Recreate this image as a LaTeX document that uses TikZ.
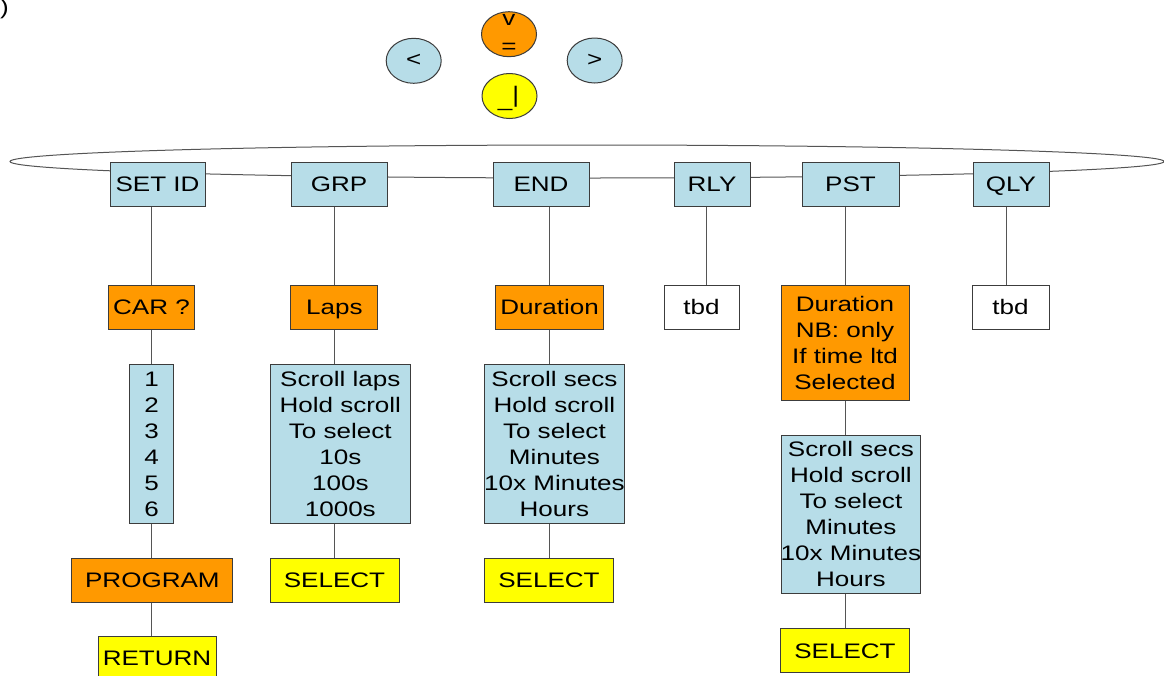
\documentclass[tikz,border=0pt]{standalone}
\usepackage{fontspec}
\setmainfont{Liberation Sans}[FakeStretch=1.24]
\usetikzlibrary{shapes.geometric}
\definecolor{lblue}{RGB}{183,221,232}
\definecolor{orng}{RGB}{255,153,0}
\definecolor{yel}{RGB}{255,255,0}
\definecolor{bord}{RGB}{60,60,60}
\definecolor{conn}{RGB}{85,85,85}
\tikzset{
  txt/.style={font=\fontsize{21}{26}\selectfont},
  box/.style={txt, draw=bord, line width=1pt, inner sep=0pt, minimum height=44, text depth=0pt, align=center},
  bluebox/.style={box, fill=lblue},
  orgbox/.style={box, fill=orng},
  yelbox/.style={box, fill=yel},
  whitebox/.style={box, fill=white},
  conn/.style={draw=conn, line width=1pt},
  btn/.style={ellipse, draw=bord, line width=1pt, minimum width=55, minimum height=45, inner sep=0pt},
  btntxt/.style={txt, inner sep=0pt, anchor=base},
}
\begin{document}
\begin{tikzpicture}[x=1pt, y=-1pt]
\useasboundingbox (0,0) rectangle (1164,675);
\fill[white] (0,0) rectangle (1164,675);

% cut-off label at top left
\node[txt, anchor=base east, inner sep=0pt] (cut) at (9,14) {)};

% buttons
\node[btn, fill=lblue, txt] (bleft) at (413.7,60.8) {<};
\node[btn, fill=orng] (bok) at (509,34.2) {};
\node[btntxt] (boktop) at (509,25) {v};
\node[btntxt] (bokbot) at (509,53) {=};
\node[btn, fill=lblue, txt] (bright) at (594.7,60.5) {>};
\node[btn, fill=yel] (bret) at (509.5,96) {};
\node[btntxt] (brettxt) at (508.5,106) {\_\raisebox{3.5pt}{\scalebox{1}[1.07]{|}}};

% ring
\draw[conn] (587,161.5) ellipse [x radius=577pt, y radius=16.5pt];

% top row
\node[bluebox, minimum width=95] (setid) at (157.5,184) {SET ID};
\node[bluebox, minimum width=96] (grp) at (339,184) {GRP};
\node[bluebox, minimum width=96] (endn) at (541,184) {END};
\node[bluebox, minimum width=76] (rly) at (712,184) {RLY};
\node[bluebox, minimum width=97] (pst) at (850.5,184) {PST};
\node[bluebox, minimum width=76] (qly) at (1011,184) {QLY};

% second row
\node[orgbox, minimum width=86] (carq) at (151.5,307) {CAR ?};
\node[orgbox, minimum width=87] (laps) at (334.4,307) {Laps};
\node[orgbox, minimum width=108] (dur) at (549.6,307) {Duration};
\node[whitebox, minimum width=75] (rlytbd) at (701.5,307) {tbd};
\node[orgbox, minimum width=128, minimum height=115] (pstdur) at (845,342.5) {Duration\\NB: only\\If time ltd\\Selected};
\node[whitebox, minimum width=77] (qlytbd) at (1010.5,307) {tbd};

% lists
\node[bluebox, minimum width=43.5, minimum height=159] (idlist) at (151.7,443.8) {1\\2\\3\\4\\5\\6};
\node[bluebox, minimum width=140.6, minimum height=159] (lapslist) at (340.3,443.8) {Scroll laps\\Hold scroll\\To select\\10s\\100s\\1000s};
\node[bluebox, minimum width=139.8, minimum height=159] (endlist) at (554.4,443.8) {Scroll secs\\Hold scroll\\To select\\Minutes\\\makebox[0pt]{10x Minutes}\\Hours};
\node[bluebox, minimum width=139.7, minimum height=158.3] (pstlist) at (850.9,514.2) {Scroll secs\\Hold scroll\\To select\\Minutes\\\makebox[0pt]{10x Minutes}\\Hours};

% bottom boxes
\node[orgbox, minimum width=161] (program) at (152.4,580.3) {PROGRAM};
\node[yelbox, minimum width=118] (ret) at (157,658.7) {RETURN};
\node[yelbox, minimum width=129] (grpsel) at (334.5,580.3) {SELECT};
\node[yelbox, minimum width=129.5] (endsel) at (549,580.3) {SELECT};
\node[yelbox, minimum width=128.3, minimum height=43.5] (pstsel) at (845,650.7) {SELECT};

\coordinate (rlyx) at (706.7,250);
\coordinate (qlyx) at (1006,250);

% connectors
\draw[conn] (carq.north) -- (carq.north |- setid.south);
\draw[conn] (idlist.north) -- (idlist.north |- carq.south);
\draw[conn] (idlist.south) -- (idlist.south |- program.north);
\draw[conn] (idlist.south |- program.south) -- (idlist.south |- ret.north);

\draw[conn] (laps.north) -- (laps.north |- grp.south);
\draw[conn] (laps.south) -- (laps.south |- lapslist.north);
\draw[conn] (grpsel.north) -- (grpsel.north |- lapslist.south);

\draw[conn] (dur.north) -- (dur.north |- endn.south);
\draw[conn] (dur.south) -- (dur.south |- endlist.north);
\draw[conn] (endsel.north) -- (endsel.north |- endlist.south);

\draw[conn] (rlyx |- rly.south) -- (rlyx |- rlytbd.north);

\draw[conn] (pstdur.north) -- (pstdur.north |- pst.south);
\draw[conn] (pstdur.south) -- (pstdur.south |- pstlist.north);
\draw[conn] (pstsel.north) -- (pstsel.north |- pstlist.south);

\draw[conn] (qlyx |- qly.south) -- (qlyx |- qlytbd.north);
\end{tikzpicture}
\end{document}
